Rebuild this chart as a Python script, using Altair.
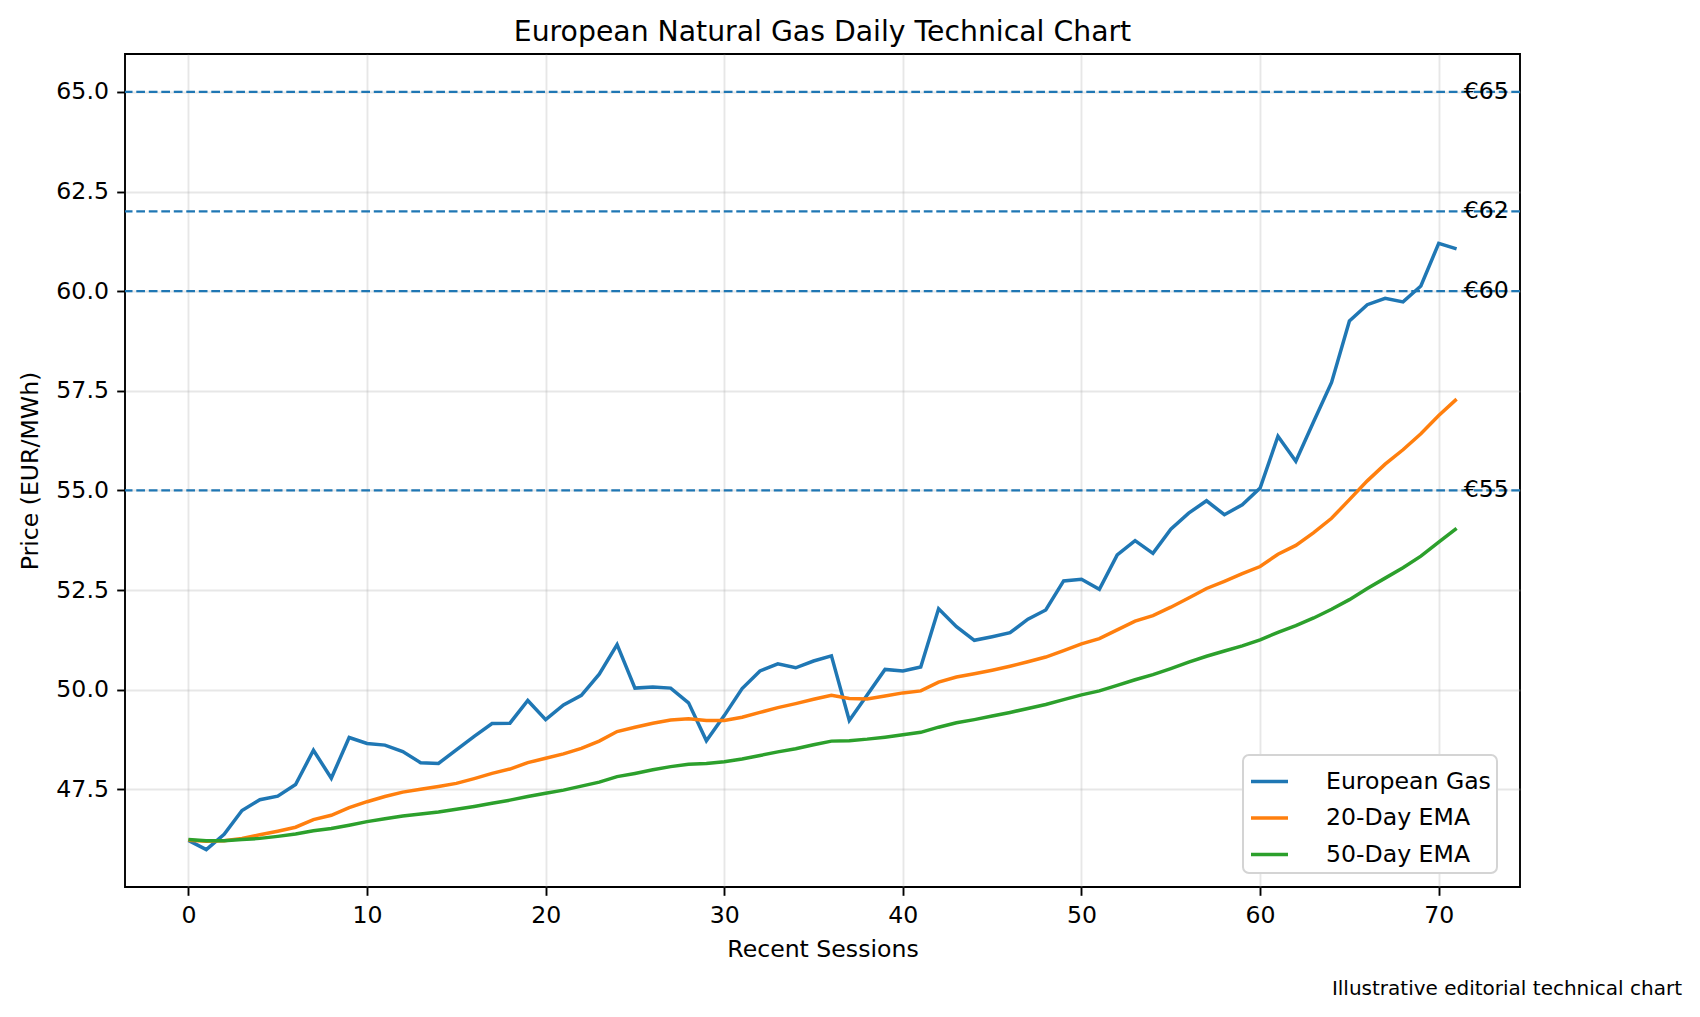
import pandas as pd
import altair as alt

FONT = "DejaVu Sans"

sessions = list(range(72))

gas = [46.22, 45.99, 46.37, 46.97, 47.24, 47.33, 47.62, 48.48, 47.78, 48.80,
       48.65, 48.61, 48.45, 48.17, 48.15, 48.49, 48.83, 49.15, 49.16, 49.73,
       49.25, 49.62, 49.86, 50.39, 51.13, 50.04, 50.07, 50.04, 49.67, 48.72,
       49.35, 50.03, 50.47, 50.65, 50.55, 50.72, 50.85, 49.23, 49.87, 50.51,
       50.47, 50.57, 52.03, 51.58, 51.24, 51.33, 51.43, 51.77, 52.00, 52.73,
       52.77, 52.52, 53.38, 53.74, 53.42, 54.03, 54.43, 54.74, 54.39, 54.64,
       55.06, 56.36, 55.73, 56.73, 57.71, 59.25, 59.66, 59.82, 59.73, 60.13,
       61.20, 61.06]

ema20 = [46.22, 46.20, 46.21, 46.27, 46.36, 46.45, 46.55, 46.74, 46.85, 47.04,
         47.19, 47.32, 47.43, 47.50, 47.57, 47.65, 47.77, 47.90, 48.01, 48.17,
         48.28, 48.39, 48.53, 48.71, 48.95, 49.06, 49.16, 49.24, 49.27, 49.23,
         49.23, 49.31, 49.43, 49.55, 49.65, 49.76, 49.86, 49.78, 49.77, 49.84,
         49.92, 49.97, 50.19, 50.32, 50.40, 50.49, 50.59, 50.70, 50.82, 50.98,
         51.15, 51.28, 51.50, 51.72, 51.86, 52.07, 52.30, 52.54, 52.72, 52.91,
         53.09, 53.40, 53.62, 53.94, 54.30, 54.77, 55.24, 55.66, 56.02, 56.42,
         56.88, 57.29]

ema50 = [46.24, 46.21, 46.21, 46.24, 46.27, 46.32, 46.38, 46.46, 46.52, 46.60,
         46.69, 46.76, 46.83, 46.88, 46.93, 47.00, 47.07, 47.15, 47.23, 47.32,
         47.40, 47.48, 47.58, 47.68, 47.82, 47.90, 47.99, 48.07, 48.13, 48.15,
         48.19, 48.26, 48.35, 48.44, 48.52, 48.62, 48.71, 48.72, 48.76, 48.81,
         48.87, 48.93, 49.06, 49.17, 49.25, 49.34, 49.43, 49.53, 49.63, 49.75,
         49.87, 49.97, 50.11, 50.25, 50.38, 50.53, 50.69, 50.84, 50.97, 51.10,
         51.25, 51.44, 51.61, 51.80, 52.02, 52.26, 52.54, 52.80, 53.06, 53.35,
         53.70, 54.05]

series_names = ["European Gas", "20-Day EMA", "50-Day EMA"]
series_colors = ["#1f77b4", "#ff7f0e", "#2ca02c"]

levels = [65, 62, 60, 55]
level_labels = ["€65", "€62", "€60", "€55"]

x_ticks = [0, 10, 20, 30, 40, 50, 60, 70]
y_ticks = [47.5, 50.0, 52.5, 55.0, 57.5, 60.0, 62.5, 65.0]

df = pd.DataFrame({
    "Session": sessions * 3,
    "Price": gas + ema20 + ema50,
    "Series": [name for name in series_names for _ in sessions],
})
levels_df = pd.DataFrame({"Price": levels, "Label": level_labels})
note_df = pd.DataFrame({"note": ["Illustrative editorial technical chart"]})

x_enc = alt.X("Session:Q",
              scale=alt.Scale(domain=[-3.55, 74.55], nice=False, zero=False),
              axis=alt.Axis(values=x_ticks, title="Recent Sessions", format="d"))
y_enc = alt.Y("Price:Q",
              scale=alt.Scale(domain=[45.05, 65.95], nice=False, zero=False),
              axis=alt.Axis(values=y_ticks, title="Price (EUR/MWh)", format=".1f",
                            titlePadding=13))

rules = alt.Chart(levels_df).mark_rule(
    color="#1f77b4", strokeWidth=2.2, strokeDash=[8.7, 3.8]
).encode(y=y_enc)

lines = alt.Chart(df).mark_line(strokeWidth=3.5).encode(
    x=x_enc,
    y=y_enc,
    color=alt.Color(
        "Series:N",
        sort=series_names,
        scale=alt.Scale(domain=series_names, range=series_colors),
        legend=alt.Legend(
            title=None, orient="none", legendX=1118, legendY=701,
            symbolType="stroke", symbolSize=1369, symbolStrokeWidth=3.5,
            labelFontSize=23.6, labelFont=FONT, labelColor="black",
            labelOffset=36, padding=6, rowPadding=3.5, labelLimit=400,
            strokeColor="#d4d4d4", fillColor="white", cornerRadius=6,
        ),
    ),
)

level_text = alt.Chart(levels_df).mark_text(
    align="left", baseline="middle", fontSize=23.6, font=FONT, color="black"
).encode(x=alt.datum(71.4), y=y_enc, text="Label:N")

note = alt.Chart(note_df).mark_text(
    align="right", baseline="middle", fontSize=20, font=FONT, color="black"
).encode(x=alt.value(1557), y=alt.value(935), text="note:N")

chart = alt.layer(rules, lines, level_text, note).properties(
    width=1395,
    height=833,
    padding={"left": 117, "top": 46, "right": 170, "bottom": 118},
    autosize=alt.AutoSizeParams(type="none"),
    title=alt.TitleParams(
        "European Natural Gas Daily Technical Chart",
        font=FONT, fontSize=28.3, fontWeight="normal", color="black",
        anchor="middle", offset=7,
    ),
).configure_view(
    stroke="black", strokeWidth=1.9
).configure_axis(
    labelFont=FONT, labelFontSize=23.6, labelColor="black",
    titleFont=FONT, titleFontSize=23.6, titleColor="black", titleFontWeight="normal",
    tickColor="black", tickSize=8.3, tickWidth=1.9, labelPadding=8.3,
    domain=False, grid=True, gridColor="#b0b0b0", gridOpacity=0.3, gridWidth=1.9,
    titlePadding=10,
).configure_legend(
    strokeWidth=2
)

chart.save("out.html", embed_options={"renderer": "svg", "actions": False})
